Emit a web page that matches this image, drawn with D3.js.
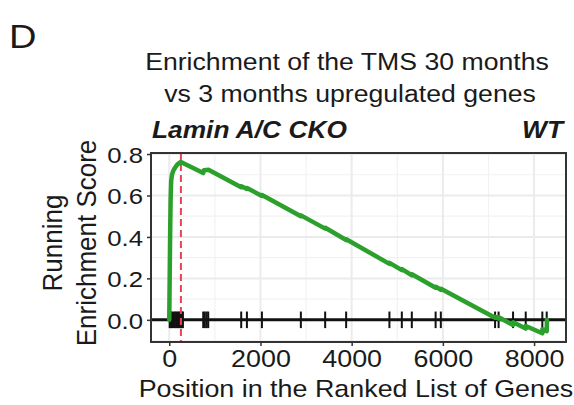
<!DOCTYPE html>
<html lang="en">
<head>
  <meta charset="UTF-8">
  <title>GSEA running enrichment score</title>
  <script src="https://d3js.org/d3.v7.min.js"></script>
  <style>
    body {
      margin: 0;
      padding: 0;
      background: #fff;
      font-family: "Liberation Sans", Arial, sans-serif;
    }
    svg text {
      fill: #1a1a1a;
    }
  </style>
</head>
<body>
  <div id="chart"></div>

  <script>
    // running enrichment score (rank, ES)
    const curveRank = [0, 5, 12, 20, 30, 42, 60, 90, 130, 180, 256, 500, 745, 760, 860,
      1578, 1580, 1703, 1705, 2032, 2034, 2886, 2888, 3419, 3421, 3879, 3881,
      4828, 4830, 5100, 5102, 5319, 5321, 5841, 5843, 5955, 5957,
      7145, 7147, 7222, 7224, 7539, 7541, 7817, 7819, 8181, 8183, 8277, 8282];
    const curveES = [0, 0.10, 0.25, 0.42, 0.58, 0.67, 0.70, 0.72, 0.735, 0.75, 0.762, 0.735, 0.708, 0.722, 0.724,
      0.640, 0.645, 0.632, 0.636, 0.598, 0.602, 0.500, 0.504, 0.440, 0.444, 0.385, 0.389,
      0.270, 0.275, 0.240, 0.245, 0.215, 0.220, 0.155, 0.160, 0.145, 0.150,
      0.010, 0.015, 0.006, 0.012, -0.025, -0.012, -0.042, -0.030, -0.065, -0.045, -0.055, 0.0];

    // positions of the gene set members in the ranked list
    const hitRanks = [10, 35, 60, 95, 125, 155, 185, 205, 235, 260, 280, 300,
      745, 780, 820, 855, 1578, 1703, 2032, 2886, 3419, 3879, 4828, 5100, 5319,
      5841, 5955, 7145, 7222, 7539, 7817, 8181, 8277];

    const peakRank = 256;

    const xTicks = [0, 2000, 4000, 6000, 8000];
    const yTicks = [0.0, 0.2, 0.4, 0.6, 0.8];
    const xMinor = [1000, 3000, 5000, 7000];
    const yMinor = [-0.1, 0.1, 0.3, 0.5, 0.7];

    const width = 574, height = 405;
    const panel = { left: 151, right: 566, top: 153, bottom: 342 };
    const sx = 1.12; // glyphs in the figure are a bit wide

    const svg = d3.select("#chart").append("svg")
      .attr("width", width)
      .attr("height", height);

    const x = d3.scaleLinear().domain([-400, 8700]).range([panel.left, panel.right]);
    const y = d3.scaleLinear().domain([-0.107, 0.805]).range([panel.bottom, panel.top]);

    // panel grid
    const grid = svg.append("g");
    grid.selectAll(".vmin").data(xMinor).enter().append("line")
      .attr("x1", d => x(d)).attr("x2", d => x(d))
      .attr("y1", panel.top).attr("y2", panel.bottom)
      .attr("stroke", "#f2f2f2").attr("stroke-width", 1.2);
    grid.selectAll(".hmin").data(yMinor).enter().append("line")
      .attr("x1", panel.left).attr("x2", panel.right)
      .attr("y1", d => y(d)).attr("y2", d => y(d))
      .attr("stroke", "#f2f2f2").attr("stroke-width", 1.2);
    grid.selectAll(".vmaj").data(xTicks).enter().append("line")
      .attr("x1", d => x(d)).attr("x2", d => x(d))
      .attr("y1", panel.top).attr("y2", panel.bottom)
      .attr("stroke", "#ebebeb").attr("stroke-width", 2);
    grid.selectAll(".hmaj").data(yTicks).enter().append("line")
      .attr("x1", panel.left).attr("x2", panel.right)
      .attr("y1", d => y(d)).attr("y2", d => y(d))
      .attr("stroke", "#ebebeb").attr("stroke-width", 2);

    // zero line and gene hits
    svg.append("line")
      .attr("x1", panel.left).attr("x2", panel.right)
      .attr("y1", y(0)).attr("y2", y(0))
      .attr("stroke", "#111").attr("stroke-width", 3);

    svg.selectAll(".hit").data(hitRanks).enter().append("line")
      .attr("x1", d => x(d)).attr("x2", d => x(d))
      .attr("y1", y(0.04)).attr("y2", y(-0.04))
      .attr("stroke", "#111").attr("stroke-width", 2);

    // peak marker
    svg.append("line")
      .attr("x1", x(peakRank)).attr("x2", x(peakRank))
      .attr("y1", panel.top).attr("y2", panel.bottom)
      .attr("stroke", "#e8435a").attr("stroke-width", 2)
      .attr("stroke-dasharray", "7,4");

    // running score
    const line = d3.line()
      .x((d, i) => x(curveRank[i]))
      .y(d => y(d));
    svg.append("path")
      .datum(curveES)
      .attr("d", line)
      .attr("fill", "none")
      .attr("stroke", "#2ca02c")
      .attr("stroke-width", 4.5)
      .attr("stroke-linejoin", "round")
      .attr("stroke-linecap", "round");

    // panel border
    svg.append("rect")
      .attr("x", panel.left).attr("y", panel.top)
      .attr("width", panel.right - panel.left)
      .attr("height", panel.bottom - panel.top)
      .attr("fill", "none").attr("stroke", "#333").attr("stroke-width", 2);

    // axes
    const xAxis = svg.append("g")
      .attr("transform", `translate(0,${panel.bottom})`)
      .call(d3.axisBottom(x).tickValues(xTicks).tickSize(4).tickPadding(4).tickFormat(d3.format("d")));
    const yAxis = svg.append("g")
      .attr("transform", `translate(${panel.left},0)`)
      .call(d3.axisLeft(y).tickValues(yTicks).tickSize(4).tickPadding(4).tickFormat(d3.format(".1f")));

    [xAxis, yAxis].forEach(a => {
      a.select(".domain").remove();
      a.selectAll(".tick line").attr("stroke", "#333").attr("stroke-width", 1.5);
      a.selectAll(".tick text")
        .attr("font-family", "Liberation Sans, Arial, sans-serif")
        .attr("font-size", 23)
        .attr("fill", "#1a1a1a");
    });
    xAxis.selectAll(".tick text").attr("font-size", 24).attr("transform", `scale(${sx},1)`);
    yAxis.selectAll(".tick text")
      .attr("x", 0).attr("dy", "0.36em")
      .attr("transform", `translate(-8,0) scale(${sx},1)`);

    // text helper: wide text placed at (tx, ty)
    function label(str, tx, ty, size, anchor, extra) {
      const t = svg.append("text")
        .attr("transform", `translate(${tx},${ty}) scale(${sx},1)`)
        .attr("text-anchor", anchor)
        .attr("font-size", size)
        .text(str);
      if (extra) extra(t);
      return t;
    }

    label("D", 9, 48, 34, "start");
    label("Enrichment of the TMS 30 months", 347, 70, 23.8, "middle");
    label("vs 3 months upregulated genes", 350, 102, 23.8, "middle");
    label("Lamin A/C CKO", 152, 138, 23.5, "start", t => t.attr("font-weight", "bold").attr("font-style", "italic"));
    label("WT", 563, 138, 23.5, "end", t => t.attr("font-weight", "bold").attr("font-style", "italic"));
    label("Position in the Ranked List of Genes", 356, 397, 24, "middle");

    // y axis title, two lines
    svg.append("text")
      .attr("transform", `translate(61.5,243) rotate(-90) scale(1,1.08)`)
      .attr("text-anchor", "middle")
      .attr("font-size", 26)
      .text("Running");
    svg.append("text")
      .attr("transform", `translate(96,243) rotate(-90) scale(1,1.08)`)
      .attr("text-anchor", "middle")
      .attr("font-size", 26)
      .text("Enrichment Score");
  </script>
</body>
</html>
